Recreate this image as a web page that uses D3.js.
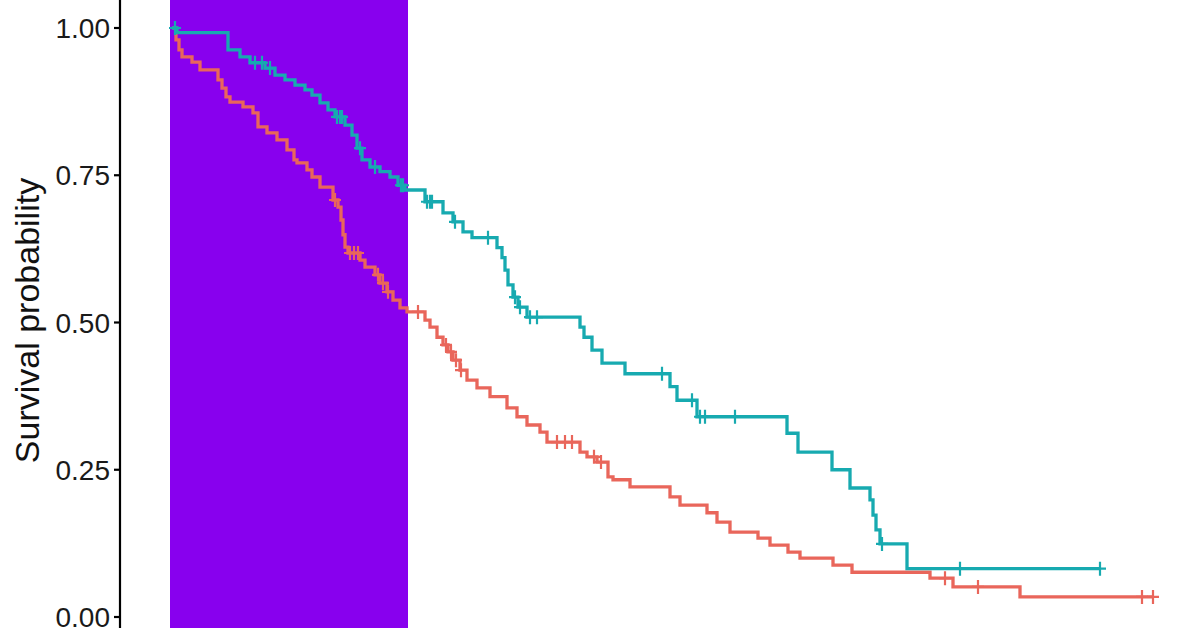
<!DOCTYPE html>
<html>
<head>
<meta charset="utf-8">
<script src="https://cdn.jsdelivr.net/npm/d3@7"></script>
<style>
  html, body { margin: 0; padding: 0; background: #fff; }
  svg { display: block; }
  text { font-family: "Liberation Sans", Arial, sans-serif; }
</style>
</head>
<body>
<svg class="km" width="1196" height="628"></svg>
<script>
// time axis is not visible in the source, times are in arbitrary months
var yTicks = [0, 0.25, 0.5, 0.75, 1];
var bandRange = [-0.2, 23.6];

// group 1 (red)
var redTimes = [0.4, 0.7, 1.0, 2.0, 2.8, 4.6, 5.0, 5.4, 5.8, 7.1, 8.1, 8.6, 9.5, 10.5, 11.5, 12.2,
  12.5, 13.5, 14.0, 14.8, 16.1, 16.6, 16.9, 17.1, 17.3, 17.6, 18.8, 19.3, 20.3, 20.8, 21.5, 22.1,
  22.8, 23.5, 25.3, 25.8, 26.5, 27.1, 27.6, 28.1, 28.8, 29.5, 30.5, 31.8, 33.5, 34.5, 35.5, 36.8,
  37.5, 40.8, 41.5, 42.5, 43.6, 44.1, 45.8, 49.8, 50.8, 53.5, 54.5, 55.8, 58.6, 59.8, 61.6, 62.8,
  66.1, 68.0, 75.8, 78.1, 84.8];
var redSurv = [0.980, 0.963, 0.951, 0.942, 0.929, 0.912, 0.898, 0.883, 0.874, 0.866, 0.856, 0.832,
  0.822, 0.810, 0.793, 0.776, 0.771, 0.759, 0.747, 0.730, 0.708, 0.696, 0.674, 0.649, 0.628, 0.618,
  0.606, 0.594, 0.581, 0.567, 0.552, 0.538, 0.525, 0.518, 0.504, 0.492, 0.475, 0.462, 0.450, 0.436,
  0.419, 0.402, 0.389, 0.374, 0.355, 0.340, 0.326, 0.314, 0.297, 0.280, 0.272, 0.263, 0.238, 0.233,
  0.221, 0.204, 0.190, 0.177, 0.161, 0.144, 0.134, 0.122, 0.110, 0.100, 0.088, 0.076, 0.066, 0.051,
  0.034];
var redCensor = [16.3, 17.8, 18.2, 18.6, 20.6, 21.1, 21.6, 24.6, 27.4, 27.9, 28.4, 28.9, 38.5, 39.3,
  40.0, 42.2, 42.9, 77.3, 80.6, 97.0, 98.1];
var redEnd = 98.1;

// group 2 (teal)
var tealTimes = [0.5, 5.6, 6.8, 7.8, 9.3, 10.3, 11.3, 12.3, 13.3, 14.0, 14.8, 15.6, 16.3, 17.3, 18.0,
  18.5, 19.0, 19.8, 20.8, 21.8, 22.6, 23.3, 25.3, 27.1, 28.1, 29.1, 30.0, 32.5, 33.0, 33.3, 33.6,
  34.1, 34.6, 35.5, 40.8, 41.2, 42.0, 43.0, 45.3, 49.8, 50.5, 52.5, 61.5, 62.6, 66.0, 67.8, 69.8,
  70.1, 70.4, 70.8, 73.5];
var tealSurv = [0.992, 0.963, 0.951, 0.941, 0.932, 0.920, 0.912, 0.903, 0.895, 0.886, 0.873, 0.861,
  0.849, 0.835, 0.818, 0.796, 0.776, 0.764, 0.756, 0.747, 0.733, 0.725, 0.705, 0.686, 0.671, 0.654,
  0.644, 0.627, 0.610, 0.589, 0.564, 0.543, 0.526, 0.509, 0.492, 0.475, 0.453, 0.431, 0.413, 0.391,
  0.368, 0.340, 0.312, 0.280, 0.250, 0.219, 0.199, 0.173, 0.148, 0.124, 0.082];
var tealCensor = [0.3, 8.3, 9.0, 9.8, 16.5, 16.8, 17.0, 18.8, 20.3, 22.9, 23.1, 25.5, 25.8, 26.0,
  28.3, 31.6, 34.3, 34.8, 35.8, 36.5, 49.0, 52.0, 52.8, 53.3, 56.3, 71.0, 78.8, 92.8];
var tealEnd = 92.8;

(function() {
  buildChart();

  function buildChart() {
    var svg = d3.select('.km');
    var width = +svg.attr('width');
    var height = +svg.attr('height');

    var x = d3.scaleLinear().domain([0, 100]).range([172, 1172]);
    var y = d3.scaleLinear().domain([0, 1]).range([617, 28]);
    var axisX = 120;

    // highlighted time window
    svg.append('rect')
      .attr('x', x(bandRange[0]))
      .attr('y', 0)
      .attr('width', x(bandRange[1]) - x(bandRange[0]))
      .attr('height', height)
      .attr('fill', '#8800ee');

    var groups = [
      { times: redTimes, surv: redSurv, censor: redCensor, end: redEnd, color: '#e9665b' },
      { times: tealTimes, surv: tealSurv, censor: tealCensor, end: tealEnd, color: '#17aab0' }
    ];

    var line = d3.line()
      .x(function(d) { return x(d[0]); })
      .y(function(d) { return y(d[1]); })
      .curve(d3.curveStepAfter);

    groups.forEach(function(g) {
      var pts = [[0, 1]];
      g.times.forEach(function(t, i) { pts.push([t, g.surv[i]]); });
      pts.push([g.end, g.surv[g.surv.length - 1]]);

      svg.append('path')
        .attr('d', line(pts))
        .attr('fill', 'none')
        .attr('stroke', g.color)
        .attr('stroke-width', 3.3);

      // survival value at a censored time (step-after lookup)
      function survAt(t) {
        var s = 1;
        g.times.forEach(function(tt, i) { if (tt <= t) s = g.surv[i]; });
        return s;
      }

      var marks = svg.append('g')
        .attr('stroke', g.color)
        .attr('stroke-width', 2.2);
      g.censor.forEach(function(t) {
        var cx = x(t), cy = y(survAt(t));
        marks.append('path')
          .attr('d', 'M' + (cx - 6) + ',' + cy + 'H' + (cx + 6) + 'M' + cx + ',' + (cy - 7) + 'V' + (cy + 7));
      });
    });

    // y axis
    var yAxis = svg.append('g')
      .attr('transform', 'translate(' + axisX + ',0)');
    yAxis.append('line')
      .attr('y1', 0).attr('y2', height)
      .attr('stroke', '#000').attr('stroke-width', 2.2);
    var tick = yAxis.selectAll('.tick')
      .data(yTicks)
      .enter().append('g')
        .attr('class', 'tick')
        .attr('transform', function(d) { return 'translate(0,' + y(d) + ')'; });
    tick.append('line')
      .attr('x1', -6).attr('x2', 0)
      .attr('stroke', '#000').attr('stroke-width', 2.2);
    tick.append('text')
      .attr('x', -10)
      .attr('dy', '0.36em')
      .attr('text-anchor', 'end')
      .attr('font-size', 28)
      .attr('fill', '#1a1a1a')
      .text(d3.format('.2f'));

    svg.append('text')
      .attr('transform', 'translate(39,' + (y(0.5) - 2) + ') rotate(-90)')
      .attr('text-anchor', 'middle')
      .attr('font-size', 34)
      .attr('fill', '#111')
      .text('Survival probability');
  }
})();
</script>
</body>
</html>
